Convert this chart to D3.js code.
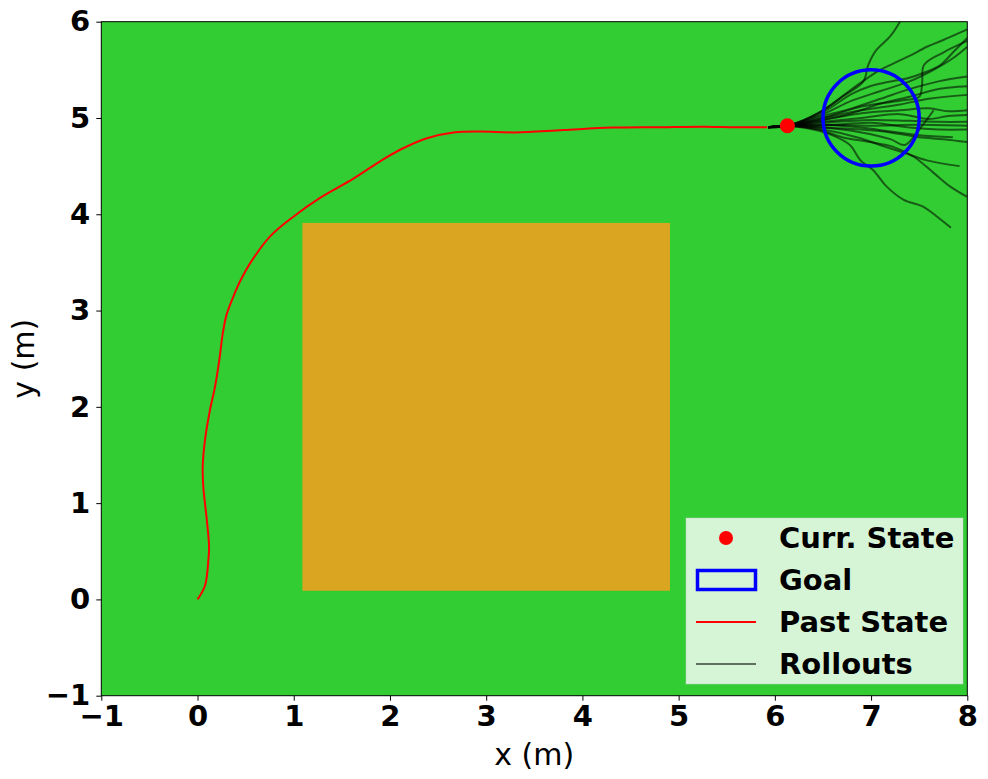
<!DOCTYPE html>
<html>
<head>
<meta charset="utf-8">
<script src="https://cdn.jsdelivr.net/npm/d3@7"></script>
<style>
  body { margin: 0; background: #fff; }
  text { font-family: "DejaVu Sans", sans-serif; }
</style>
</head>
<body>
<div id="chart"></div>
<script>
// axis ranges
var xDomain = [-1, 8];
var yDomain = [-1, 6];
var xTicks = [-1, 0, 1, 2, 3, 4, 5, 6, 7, 8];
var yTicks = [-1, 0, 1, 2, 3, 4, 5, 6];

// obstacle [x0, y0, x1, y1]
var obstacle = [1.09, 0.09, 4.91, 3.91];
// goal centre and radius
var goal = [7, 5];
var goalRadius = 0.5;
// current state
var currState = [6.13, 4.92];

// past state (red path)
var pastX = [0, 0.078, 0.113, 0.12, 0.096, 0.06, 0.054, 0.078, 0.13, 0.182, 0.227, 0.262, 0.30, 0.37, 0.45,
  0.546, 0.754, 0.996, 1.273, 1.62, 1.897, 2.105, 2.383, 2.66, 2.94, 3.3, 3.8, 4.3, 4.8, 5.25, 5.6, 5.92];
var pastY = [0, 0.145, 0.41, 0.55, 0.83, 1.17, 1.38, 1.66, 1.97, 2.21, 2.49, 2.76, 2.95, 3.14, 3.32,
  3.49, 3.77, 3.975, 4.17, 4.37, 4.55, 4.67, 4.79, 4.85, 4.86, 4.85, 4.875, 4.9, 4.905, 4.91, 4.905, 4.905];

// rollouts (black, translucent), each starts near the current state
var rollouts = [
  [[5.93,4.905],[6.13,4.92],[6.45,5.05],[6.7,5.22],[6.92,5.38],[6.97,5.55],[7.05,5.7],[7.2,5.85],[7.3,6.0]],
  [[5.93,4.905],[6.13,4.92],[6.5,5.08],[6.8,5.3],[7.06,5.48],[7.24,5.57],[7.41,5.65],[7.58,5.74],[7.75,5.81],[8.0,5.92]],
  [[5.93,4.905],[6.13,4.92],[6.5,5.06],[6.8,5.25],[6.99,5.33],[7.2,5.38],[7.37,5.41],[7.55,5.47],[7.72,5.55],[7.86,5.69],[8.0,5.83]],
  [[5.93,4.905],[6.13,4.92],[6.5,5.04],[6.8,5.18],[7.1,5.28],[7.4,5.38],[7.65,5.5],[7.85,5.62],[8.0,5.74]],
  [[5.93,4.905],[6.13,4.92],[6.5,5.0],[6.9,5.12],[7.3,5.18],[7.5,5.22],[7.53,5.35],[7.55,5.55],[7.75,5.68],[8.0,5.8]],
  [[5.93,4.905],[6.13,4.92],[6.5,5.02],[6.8,5.1],[7.1,5.2],[7.4,5.3],[7.7,5.38],[8.0,5.43]],
  [[5.93,4.905],[6.13,4.92],[6.5,4.98],[6.8,5.05],[7.1,5.15],[7.4,5.22],[7.7,5.3],[8.0,5.33]],
  [[5.93,4.905],[6.13,4.92],[6.5,5.0],[6.9,5.08],[7.3,5.14],[7.6,5.2],[8.0,5.24]],
  [[5.93,4.905],[6.13,4.92],[6.5,4.98],[6.9,5.05],[7.3,5.08],[7.6,5.1],[7.8,5.07],[8.0,5.08]],
  [[5.93,4.905],[6.13,4.92],[6.5,4.96],[6.9,5.0],[7.3,5.04],[7.6,4.99],[7.8,5.02],[8.0,5.03]],
  [[5.93,4.905],[6.13,4.92],[6.5,4.95],[7.0,4.98],[7.4,4.97],[7.7,4.96],[8.0,4.96]],
  [[5.93,4.905],[6.13,4.92],[6.5,4.92],[7.0,4.95],[7.4,4.9],[7.7,4.88],[8.0,4.88]],
  [[5.93,4.905],[6.13,4.92],[6.6,4.93],[7.0,4.92],[7.5,4.93],[8.0,4.92]],
  [[5.93,4.905],[6.13,4.92],[6.5,4.9],[6.9,4.88],[7.2,4.85],[7.5,4.8],[7.75,4.78],[8.0,4.75]],
  [[5.93,4.905],[6.13,4.92],[6.5,4.93],[6.9,4.9],[7.2,4.86],[7.5,4.82],[7.85,4.8]],
  [[5.93,4.905],[6.13,4.92],[6.5,4.88],[6.89,4.79],[7.09,4.72],[7.34,4.64],[7.58,4.56],[7.92,4.5]],
  [[5.93,4.905],[6.13,4.92],[6.45,4.88],[6.7,4.8],[6.99,4.75],[7.23,4.7],[7.44,4.6],[7.65,4.43],[7.82,4.29],[8.0,4.18]],
  [[5.93,4.905],[6.13,4.92],[6.4,4.88],[6.6,4.82],[6.78,4.72],[6.89,4.56],[7.02,4.46],[7.16,4.29],[7.34,4.15],[7.54,4.08],[7.68,3.98],[7.83,3.86]],
  [[5.93,4.905],[6.13,4.92],[6.5,4.9],[6.9,4.85],[7.2,4.78],[7.35,4.72],[7.5,4.88],[7.65,5.08]]
];

var legendLabels = ["Curr. State", "Goal", "Past State", "Rollouts"];

var width = 988, height = 779;
var margin = {left: 101.3, right: 20.7, top: 21.7, bottom: 83.3};

var svg = d3.select("#chart").append("svg")
    .attr("width", width)
    .attr("height", height);

var x = d3.scaleLinear().domain(xDomain).range([margin.left, width - margin.right]);
var y = d3.scaleLinear().domain(yDomain).range([height - margin.bottom, margin.top]);

svg.append("clipPath").attr("id", "plotClip")
  .append("rect")
    .attr("x", x(xDomain[0])).attr("y", y(yDomain[1]))
    .attr("width", x(xDomain[1]) - x(xDomain[0]))
    .attr("height", y(yDomain[0]) - y(yDomain[1]));

// background
svg.append("rect")
    .attr("x", x(xDomain[0])).attr("y", y(yDomain[1]))
    .attr("width", x(xDomain[1]) - x(xDomain[0]))
    .attr("height", y(yDomain[0]) - y(yDomain[1]))
    .attr("fill", "#32cd32");

var plot = svg.append("g").attr("clip-path", "url(#plotClip)");

// obstacle
plot.append("rect")
    .attr("x", x(obstacle[0])).attr("y", y(obstacle[3]))
    .attr("width", x(obstacle[2]) - x(obstacle[0]))
    .attr("height", y(obstacle[1]) - y(obstacle[3]))
    .attr("fill", "#daa520");

// past path
var pastData = pastX.map(function(d, i){ return [d, pastY[i]]; });
var line = d3.line()
    .x(function(d){ return x(d[0]); })
    .y(function(d){ return y(d[1]); })
    .curve(d3.curveCatmullRom);

plot.append("path")
    .attr("d", line(pastData))
    .attr("fill", "none")
    .attr("stroke", "#ff0000")
    .attr("stroke-width", 2);

// rollouts
plot.selectAll("path.rollout")
  .data(rollouts)
  .enter().append("path")
    .attr("class", "rollout")
    .attr("d", line)
    .attr("fill", "none")
    .attr("stroke", "#000")
    .attr("stroke-opacity", 0.55)
    .attr("stroke-width", 2);

// goal
plot.append("circle")
    .attr("cx", x(goal[0])).attr("cy", y(goal[1]))
    .attr("r", x(goal[0] + goalRadius) - x(goal[0]))
    .attr("fill", "none")
    .attr("stroke", "#0000ff")
    .attr("stroke-width", 3.5);

// current state
plot.append("circle")
    .attr("cx", x(currState[0])).attr("cy", y(currState[1]))
    .attr("r", 7.5)
    .attr("fill", "#ff0000");

// axes
var fmt = function(d){ return d < 0 ? "\u2212" + Math.abs(d) : String(d); };
var xAxis = svg.append("g")
    .attr("transform", "translate(0," + y(yDomain[0]) + ")")
    .call(d3.axisBottom(x).tickValues(xTicks).tickFormat(fmt).tickSize(5).tickPadding(5));
var yAxis = svg.append("g")
    .attr("transform", "translate(" + x(xDomain[0]) + ",0)")
    .call(d3.axisLeft(y).tickValues(yTicks).tickFormat(fmt).tickSize(5).tickPadding(6));
[xAxis, yAxis].forEach(function(a){
  a.select(".domain").remove();
  a.selectAll("text").attr("font-size", 29).attr("font-weight", "bold")
    .attr("font-family", "DejaVu Sans").attr("fill", "#000");
  a.selectAll("line").attr("stroke", "#000");
});

// frame
svg.append("rect")
    .attr("x", x(xDomain[0])).attr("y", y(yDomain[1]))
    .attr("width", x(xDomain[1]) - x(xDomain[0]))
    .attr("height", y(yDomain[0]) - y(yDomain[1]))
    .attr("fill", "none").attr("stroke", "#000").attr("stroke-width", 1);

// axis labels
svg.append("text")
    .attr("x", (x(xDomain[0]) + x(xDomain[1])) / 2)
    .attr("y", 765)
    .attr("text-anchor", "middle")
    .attr("font-size", 30)
    .text("x (m)");
svg.append("text")
    .attr("transform", "translate(34," + (y(yDomain[0]) + y(yDomain[1])) / 2 + ") rotate(-90)")
    .attr("text-anchor", "middle")
    .attr("font-size", 30)
    .text("y (m)");

// legend
var legend = svg.append("g").attr("transform", "translate(686,518)");
legend.append("rect")
    .attr("width", 277).attr("height", 166)
    .attr("fill", "#ffffff").attr("fill-opacity", 0.8)
    .attr("stroke", "#cccccc").attr("stroke-opacity", 0.5);

var rowY = [20, 62, 104, 146];
legend.append("circle").attr("cx", 40).attr("cy", rowY[0]).attr("r", 7).attr("fill", "#ff0000");
legend.append("rect").attr("x", 11.5).attr("y", rowY[1] - 9.5).attr("width", 58).attr("height", 19)
    .attr("fill", "none").attr("stroke", "#0000ff").attr("stroke-width", 3.5);
legend.append("line").attr("x1", 10).attr("x2", 70).attr("y1", rowY[2]).attr("y2", rowY[2])
    .attr("stroke", "#ff0000").attr("stroke-width", 2);
legend.append("line").attr("x1", 10).attr("x2", 70).attr("y1", rowY[3]).attr("y2", rowY[3])
    .attr("stroke", "#000").attr("stroke-opacity", 0.55).attr("stroke-width", 2);

legend.selectAll("text.lab")
  .data(legendLabels)
  .enter().append("text")
    .attr("class", "lab")
    .attr("x", 93)
    .attr("y", function(d, i){ return rowY[i]; })
    .attr("dy", "0.35em")
    .attr("font-size", 29)
    .attr("font-weight", "bold")
    .text(function(d){ return d; });
</script>
</body>
</html>
